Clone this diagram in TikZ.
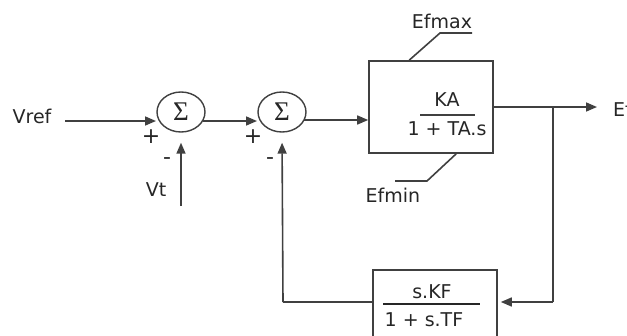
\documentclass[tikz,border=0pt]{standalone}
\usepackage{fontspec}
\setmainfont{DejaVu Sans}
\newfontfamily\sigfont{Liberation Serif}
\usetikzlibrary{arrows.meta,shapes.geometric,calc}
\begin{document}
\begin{tikzpicture}[x=1pt,y=-1pt,
  ln/.style={line width=1.6pt, draw=black!75},
  arr/.style={ln,-{Triangle[length=11pt,width=9pt]}},
  lbl/.style={font=\fontsize{19}{22}\selectfont, text=black!85, inner sep=0},
  sgn/.style={font=\fontsize{22}{24}\selectfont, text=black!85, inner sep=0},
  sumnode/.style={ellipse, draw=black!75, line width=1.4pt, minimum width=48pt, minimum height=40pt, inner sep=0, font=\sigfont\fontsize{27}{28}\selectfont, text=black!85},
  blk/.style={draw=black!75, line width=1.6pt, inner sep=0}]
\useasboundingbox (0,0) rectangle (627,335);
\clip (0,0) rectangle (627,335);
% nodes
\node[lbl] (vref) at (32,116) {Vref};
\node[sumnode] (s1) at (181,112) {Σ};
\node[sumnode] (s2) at (282,112) {Σ};
\node[blk, minimum width=124pt, minimum height=92pt] (ka) at (431,107) {};
\node[lbl] (kanum) at (447,100) {KA};
\node[lbl] (kaden) at (447,129) {1 + TA.s};
\draw[ln] (420,115) -- (475,115);
\node[blk, minimum width=124pt, minimum height=70pt] (kf) at (435,305) {};
\node[lbl] (kfnum) at (432,292) {s.KF};
\node[lbl] (kfden) at (424,320) {1 + s.TF};
\draw[line width=2pt, draw=black!85] (383,304) -- (480,304);
\node[lbl] (efmax) at (442,21) {Efmax};
\node[lbl] (efmin) at (393,195) {Efmin};
\node[lbl] (vt) at (156,190) {Vt};
\node[lbl, anchor=west] (efd) at (613,109) {Efd};
\node[sgn] (p1) at (151,137) {+};
\node[sgn] (p2) at (253,137) {+};
\node[sgn] (m1) at (167,161) {-};
\node[sgn] (m2) at (270,161) {-};
% coordinates
\coordinate (vstart) at (65,121);
\coordinate (vtstart) at (181,206);
\coordinate (outend) at (597,107);
\coordinate (junc) at (553,107);
\coordinate (jdown) at (553,302);
\coordinate (fbleft) at (283,302);
\coordinate (maxk) at (440,33);
\coordinate (maxe) at (472,33);
\coordinate (mink) at (427,181);
\coordinate (mine) at (395,181);
% connectors
\draw[arr, shorten >=3pt] (vstart) -- ($(s1.center)+(-22,9)$);
\draw[arr, shorten >=10pt] (vtstart) -- (s1.south);
\draw[arr, shorten >=3pt] ($(s1.center)+(22,9)$) -- ($(s2.center)+(-22,9)$);
\draw[ln] ($(s2.center)+(22,8)$) -- ++(40,0) coordinate (kin);
\draw[arr] (kin) -- (ka.west |- kin);
\draw[arr] (ka.east) -- (outend);
\draw[ln] (junc) -- (jdown);
\draw[arr, shorten >=3pt] (jdown) -- (kf.east |- jdown);
\draw[ln] (kf.west |- fbleft) -- (fbleft);
\draw[arr, shorten >=10pt] (fbleft) -- (s2.south);
\draw[ln] ($(ka.north west)+(41,0)$) -- (maxk) -- (maxe);
\draw[ln] ($(ka.south west)+(88,0)$) -- (mink) -- (mine);
\end{tikzpicture}
\end{document}
